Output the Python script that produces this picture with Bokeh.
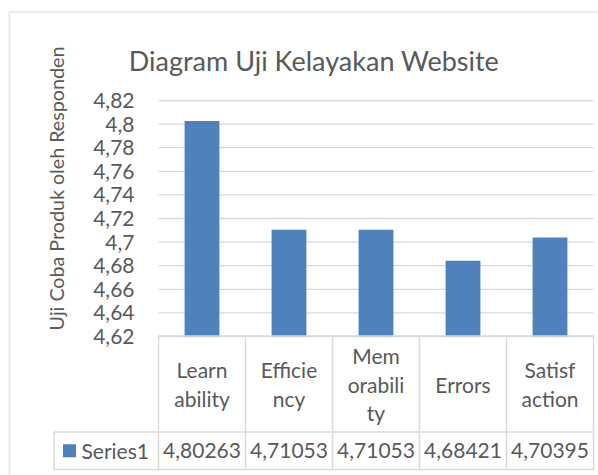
import math
from bokeh.plotting import figure
from bokeh.models import Range1d, FixedTicker
from bokeh.core.properties import value
from bokeh.embed import file_html
from bokeh.resources import INLINE

# ---- data ----
categories = ["Learnability", "Efficiency", "Memorability", "Errors", "Satisfaction"]
category_cells = ["Learn\nability", "Efficie\nncy", "Mem\norabili\nty", "Errors", "Satisf\naction"]
series_name = "Series1"
values = [4.80263, 4.71053, 4.71053, 4.68421, 4.70395]
ticks = [4.62, 4.64, 4.66, 4.68, 4.70, 4.72, 4.74, 4.76, 4.78, 4.80, 4.82]
tick_labels = ["4,62", "4,64", "4,66", "4,68", "4,7", "4,72", "4,74", "4,76", "4,78", "4,8", "4,82"]
title_text = "Diagram Uji Kelayakan Website"
y_title = "Uji Coba Produk oleh Responden"

# ---- style / layout (page pixels) ----
BAR = "#4F81BD"
TXT = "#595959"
GRID = "#d9d9d9"
FONT = "Lato"
W, H = 598, 475
FRAME_L = 8
CAT0_PX, CAT_W = 158.0, 87.0        # left edge of first category column, column width
V_LO_PX, V_HI_PX = 336.0, 100.0     # pixel rows of lowest / highest tick
px_per_val = (V_LO_PX - V_HI_PX) / (ticks[-1] - ticks[0])
n = len(categories)

def cx(px):
    return (px - CAT0_PX) / CAT_W

p = figure(width=W, height=H,
           x_range=Range1d(cx(FRAME_L), cx(W)),
           y_range=Range1d(ticks[0] - (H - V_LO_PX) / px_per_val, ticks[-1] + V_HI_PX / px_per_val),
           x_axis_location=None, title=None, toolbar_location=None, output_backend="svg",
           min_border_left=FRAME_L, min_border_right=0, min_border_top=0, min_border_bottom=0)
p.extra_x_ranges = {"px": Range1d(FRAME_L, W)}
p.extra_y_ranges = {"px": Range1d(H, 0)}
p.grid.visible = False
p.outline_line_color = None
p.background_fill_color = "white"
p.border_fill_color = "white"

# y axis drawn inside the frame
ax = p.yaxis[0]
ax.fixed_location = cx(95)
ax.ticker = FixedTicker(ticks=ticks)
ax.major_label_overrides = dict(zip(ticks, tick_labels))
ax.axis_line_color = None
ax.major_tick_line_color = None
ax.minor_tick_line_color = None
ax.major_label_standoff = -45
ax.major_label_text_font = FONT
ax.major_label_text_font_size = "21px"
ax.major_label_text_color = TXT

# gridlines at the tick values across the plot area
p.segment(x0=[0] * len(ticks), x1=[n] * len(ticks), y0=ticks, y1=ticks,
          line_color=GRID, line_width=1.3, level="underlay")

# bars
xs = [i + 0.5 for i in range(n)]
p.vbar(x=xs, top=values, bottom=ticks[0], width=0.4, fill_color=BAR, line_color=None)

# chart border (top / left)
p.segment(x0=[8.5, 8.5], y0=[11.5, 11.5], x1=[8.5, W], y1=[H, 11.5],
          x_range_name="px", y_range_name="px", line_color=GRID, line_width=1.2)

# title and axis title
p.text(x=[313.5], y=[60], text=[title_text], x_range_name="px", y_range_name="px",
       text_align="center", text_baseline="alphabetic", text_font=value(FONT),
       text_font_size="27px", text_color=TXT)
p.text(x=[56], y=[188], text=[y_title], angle=math.pi / 2, x_range_name="px", y_range_name="px",
       text_align="center", text_baseline="middle", text_font=value(FONT),
       text_font_size="19.7px", text_color=TXT)

# data table
row_top, row_mid, row_bot = 335.5, 431.5, 469.0
x_lo = cx(53.5)
p.segment(x0=[0, x_lo, x_lo, x_lo] + list(range(n + 1)),
          x1=[n, n, n, x_lo] + list(range(n + 1)),
          y0=[row_top, row_mid, row_bot, row_mid] + [row_top] * (n + 1),
          y1=[row_top, row_mid, row_bot, row_bot] + [row_bot] * (n + 1),
          y_range_name="px", line_color=GRID, line_width=1.5)
p.text(x=xs, y=[(row_top + row_mid) / 2] * n, text=category_cells, y_range_name="px",
       text_align="center", text_baseline="middle", text_font=value(FONT),
       text_font_size="21px", text_color=TXT, text_line_height=1.13)
val_text = [f"{v:.5f}".replace(".", ",") for v in values]
p.text(x=xs, y=[(row_mid + row_bot) / 2] * n, text=val_text, y_range_name="px",
       text_align="center", text_baseline="middle", text_font=value(FONT),
       text_font_size="21px", text_color=TXT)
p.scatter(x=[69], y=[(row_mid + row_bot) / 2], x_range_name="px", y_range_name="px",
          marker="square", size=13, fill_color=BAR, line_color=None)
p.text(x=[81], y=[(row_mid + row_bot) / 2], text=[series_name], x_range_name="px", y_range_name="px",
       text_align="left", text_baseline="middle", text_font=value(FONT),
       text_font_size="21px", text_color=TXT)

open("out.html", "w").write(file_html(p, INLINE))
